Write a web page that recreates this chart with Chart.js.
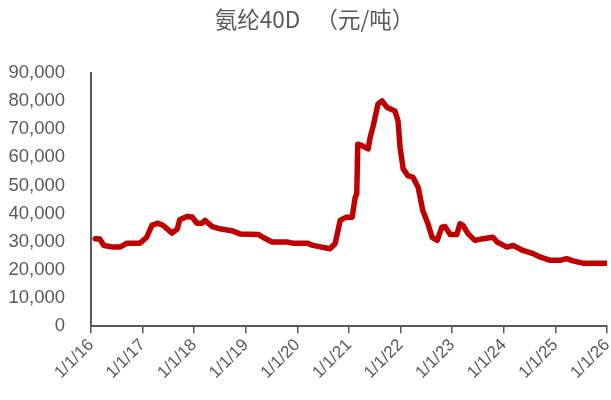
<!DOCTYPE html>
<html><head><meta charset="utf-8">
<script src="https://cdn.jsdelivr.net/npm/chart.js@4"></script>
<style>html,body{margin:0;padding:0;background:#fff}#wrap{width:611px;height:400px}</style>
</head><body><div id="wrap"><canvas id="c" width="611" height="400"></canvas></div>
<script>
const titleText = '氨纶40D   （元/吨）';
// dates as decimal years
const dates = [2016.08,2016.17,2016.25,2016.43,2016.56,2016.70,2016.95,2017.08,2017.18,2017.30,2017.40,2017.57,2017.67,2017.72,2017.86,2017.96,2018.05,2018.15,2018.21,2018.35,2018.50,2018.75,2018.89,2019.24,2019.33,2019.51,2019.80,2019.91,2020.19,2020.30,2020.63,2020.73,2020.83,2020.94,2021.06,2021.12,2021.15,2021.17,2021.25,2021.37,2021.41,2021.47,2021.56,2021.64,2021.74,2021.89,2021.95,2021.99,2022.05,2022.14,2022.24,2022.34,2022.43,2022.53,2022.61,2022.71,2022.80,2022.86,2022.96,2023.09,2023.15,2023.21,2023.31,2023.44,2023.60,2023.79,2023.87,2024.06,2024.18,2024.37,2024.57,2024.70,2024.90,2025.09,2025.22,2025.34,2025.53,2026.00];
const prices = [31100,31000,28700,28100,28100,29500,29500,31600,35800,36600,35800,33100,34500,37800,39000,38800,36600,36600,37600,35400,34600,33800,32800,32600,31600,29900,29900,29500,29500,28700,27500,29300,37600,38700,38700,45800,47000,64700,64200,63000,67100,71200,78900,80100,77700,76500,73000,63500,55900,53500,52900,49400,41100,36400,31600,30500,35200,35400,32600,32600,36400,35800,32800,30500,31100,31600,29900,28100,28700,26900,25800,24600,23400,23400,24000,23200,22400,22400];
const xTickYears = [2016,2017,2018,2019,2020,2021,2022,2023,2024,2025,2026];
const yTicks = [0,10000,20000,30000,40000,50000,60000,70000,80000,90000];

const pts = dates.map((d,i)=>({x:d,y:prices[i]}));
new Chart(document.getElementById('c'),{
  type:'line',
  data:{datasets:[{data:pts,borderColor:'#C00000',borderWidth:5.5,pointRadius:0,tension:0,fill:false,borderJoinStyle:'round',borderCapStyle:'round'}]},
  options:{
    responsive:false,animation:false,
    layout:{padding:{left:7,right:4,top:2,bottom:15}},
    plugins:{legend:{display:false},tooltip:{enabled:false},
      title:{display:true,text:'   '+titleText,color:'#595959',font:{family:'"Noto Sans CJK SC"',size:22.5,weight:'normal'},padding:{top:4,bottom:40}}},
    scales:{
      x:{type:'linear',min:2016,max:2026,
        afterBuildTicks:(s)=>{s.ticks=xTickYears.map(v=>({value:v}));},
        afterFit:(s)=>{s.paddingRight=4;s.paddingLeft=0;},
        ticks:{color:'#595959',font:{family:'"Liberation Sans"',size:17},minRotation:45,maxRotation:45,autoSkip:false,padding:2,
          callback:(v)=>'1/1/'+String(v-2000)},
        grid:{display:true,drawOnChartArea:false,drawTicks:true,tickLength:7,color:'#595959',lineWidth:1.5},
        border:{display:true,color:'#595959',width:2}},
      y:{min:0,max:90000,
        afterBuildTicks:(s)=>{s.ticks=yTicks.map(v=>({value:v}));},
        afterFit:(s)=>{s.width=84;},
        ticks:{color:'#595959',font:{family:'"Liberation Sans"',size:18.5},padding:26,
          callback:(v)=>v.toLocaleString('en-US')},
        grid:{display:false,drawTicks:false},
        border:{display:true,color:'#595959',width:2}}
    }
  }
});
</script></body></html>
